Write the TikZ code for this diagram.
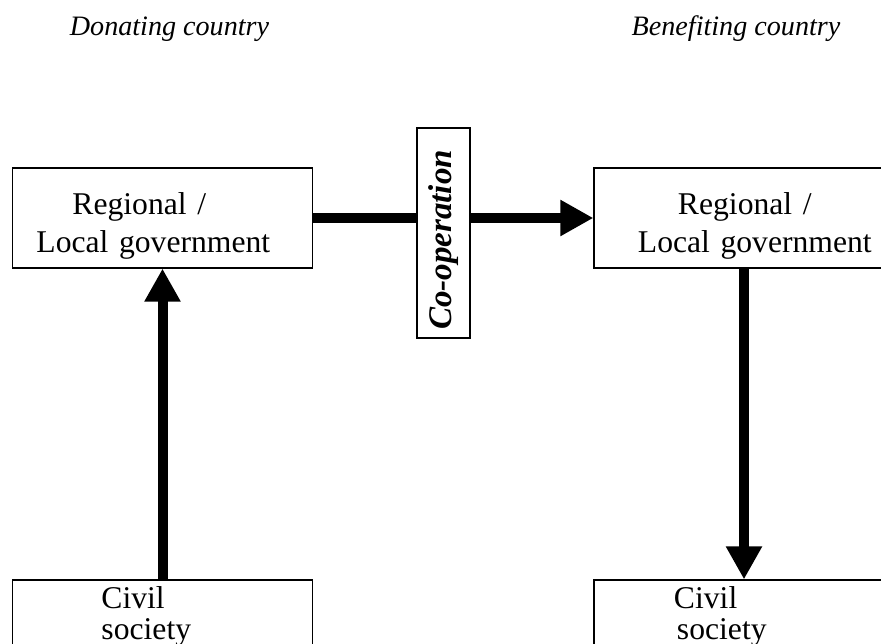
\documentclass[tikz,border=0pt]{standalone}
\usepackage{fontspec}
\setmainfont{Liberation Serif}
\usetikzlibrary{arrows.meta, positioning}

\begin{document}
\begin{tikzpicture}[
    x=0.025cm, y=-0.025cm,
    heading/.style={font=\fontsize{20}{24}\selectfont\itshape},
    entity/.style={rectangle, draw, line width=0.8pt, inner xsep=0pt, inner ysep=0pt, align=left, text width=7.5cm},
    gov/.style={entity, minimum height=2.5cm, text height=0.95cm, font=\fontsize{22.5}{27}\selectfont},
    civil/.style={entity, minimum height=1.8cm, font=\fontsize{22.5}{22}\selectfont},
    coopbox/.style={rectangle, draw, fill=white, line width=0.8pt, rotate=90, minimum width=5.25cm, minimum height=1.325cm, font=\fontsize{23.5}{28}\selectfont\bfseries\itshape},
    arrow/.style={-{Triangle[length=0.825cm, width=0.85cm]}, line width=0.25cm}
]
    \useasboundingbox (0,0) rectangle (881,644);
    \clip (0,0) rectangle (881,644);

    \node[heading] (donor) at (169.5,29) {Donating country};
    \node[heading] (benefit) at (736,29) {Benefiting country};

    \node[gov] (lgov) at (162.5,218) {\hspace*{1.5cm}Regional /\\\hspace*{0.6cm}Local government};
    \node[gov] (rgov) at (744,218) {\hspace*{2.1cm}Regional /\\\hspace*{1.1cm}Local government};
    \node[civil] (lciv) at (162.5,616) {\hspace*{2.225cm}Civil\\\hspace*{2.225cm}society};
    \node[civil] (rciv) at (744,616) {\hspace*{2cm}Civil\\\hspace*{2.075cm}society};

    \draw[arrow] (lgov) -- (rgov);
    \draw[arrow] (lciv) -- (lgov);
    \draw[arrow] (rgov) -- (rciv);

    \node[coopbox] (coop) at (443.5,233) {Co-operation\hspace*{0.35cm}};
\end{tikzpicture}
\end{document}
